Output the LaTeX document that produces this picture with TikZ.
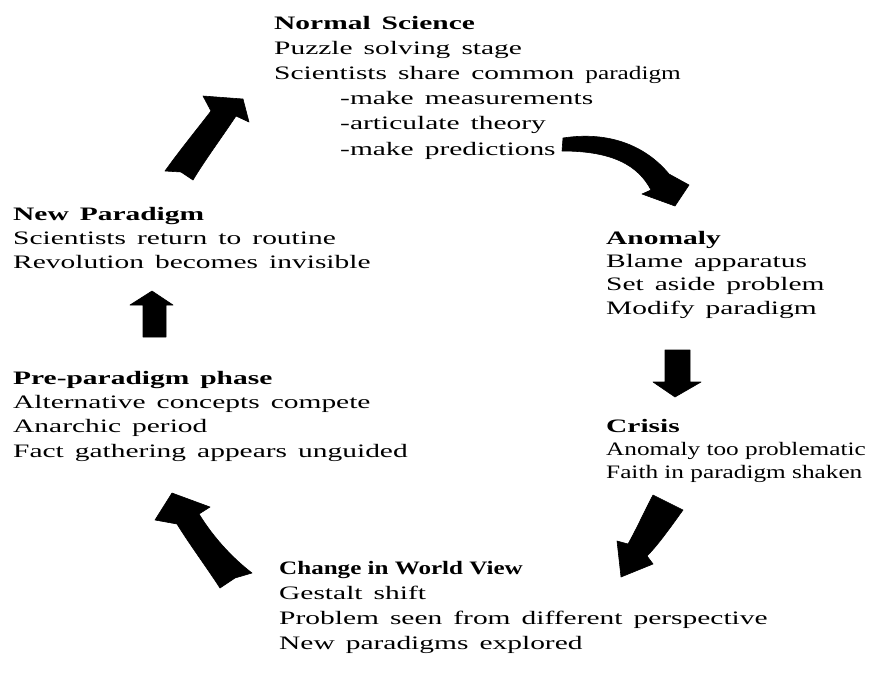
\documentclass[tikz,border=0pt]{standalone}
\usepackage{fontspec}
\setmainfont{Liberation Serif}[FakeStretch=1.55,WordSpace=1.5]
\newfontfamily\narrowfont{Liberation Serif}[FakeStretch=1.33]
\newfontfamily\titlefont{Liberation Serif}[FakeStretch=1.32]

\begin{document}
\begin{tikzpicture}[x=1pt,y=-1pt,
  stage/.style={anchor=base west, inner sep=0pt, align=left},
  blockarrow/.style={fill=black, draw=black, line width=0.6pt, line join=round}]
\useasboundingbox (0,0) rectangle (870,675);
\fill[white] (0,0) rectangle (870,675);

% stages of the cycle (each node is placed by the baseline of its last line)
\node[stage, font=\fontsize{19}{25.2}\selectfont] (normal) at (274,155)
  {\textbf{Normal Science}\\
   Puzzle solving stage\\
   Scientists share common {\fontsize{19}{25.2}\narrowfont paradigm}\\
   \hspace*{66pt}-make measurements\\
   \hspace*{66pt}-articulate theory\\
   \hspace*{66pt}-make predictions};

\node[stage, font=\fontsize{19}{23.3}\selectfont] (anomaly) at (606,314)
  {\textbf{Anomaly}\\
   Blame apparatus\\
   Set aside problem\\
   Modify paradigm};

\node[stage, font=\fontsize{19}{23}\selectfont] (crisis) at (606,478)
  {\textbf{Crisis}\\
   \narrowfont Anomaly too problematic\\
   \narrowfont Faith in paradigm shaken};

\node[stage, font=\fontsize{19}{24.8}\selectfont] (change) at (279,649)
  {{\titlefont\bfseries Change in World View}\\
   Gestalt shift\\
   Problem seen from different perspective\\
   New paradigms explored};

\node[stage, font=\fontsize{19}{24.3}\selectfont] (pre) at (13,457)
  {\textbf{Pre-paradigm phase}\\
   Alternative concepts compete\\
   Anarchic period\\
   Fact gathering appears unguided};

\node[stage, font=\fontsize{19}{24}\selectfont] (newpar) at (13,268)
  {\textbf{New Paradigm}\\
   Scientists return to routine\\
   Revolution becomes invisible};

% hand-drawn block arrows between the stages
% new paradigm -> normal science
\path[blockarrow] (165,171) .. controls (180,150) and (198,128) .. (211,111)
  -- (203,96) -- (243,99) -- (249,122) -- (236,116)
  .. controls (220,140) and (205,160) .. (193,180) -- (181,172) -- cycle;
% normal science -> anomaly
\path[blockarrow] (563,138) .. controls (608,131) and (645,145) .. (669,174)
  -- (689,185) -- (675,206) -- (642,194) -- (651,190)
  .. controls (638,165) and (612,151) .. (562,151) -- cycle;
% anomaly -> crisis
\path[blockarrow] (665,350) -- (690,350) -- (690,382) -- (701,382)
  -- (675,397) -- (653,382) -- (665,382) -- cycle;
% crisis -> change in world view
\path[blockarrow] (653,495) -- (683,510) .. controls (670,528) and (658,545) .. (647,556)
  -- (653,564) -- (621,577) -- (617,541) -- (628,544)
  .. controls (637,528) and (645,510) .. (653,495) -- cycle;
% change in world view -> pre-paradigm phase
\path[blockarrow] (155,520) -- (172,493) -- (210,507) -- (199,514)
  .. controls (215,540) and (235,560) .. (252,573) -- (235,578) -- (220,588)
  .. controls (205,565) and (190,545) .. (177,524) -- cycle;
% pre-paradigm phase -> new paradigm
\path[blockarrow] (152,291) -- (173,305) -- (166,305) -- (166,337)
  -- (143,337) -- (143,305) -- (130,305) -- cycle;
\end{tikzpicture}
\end{document}
